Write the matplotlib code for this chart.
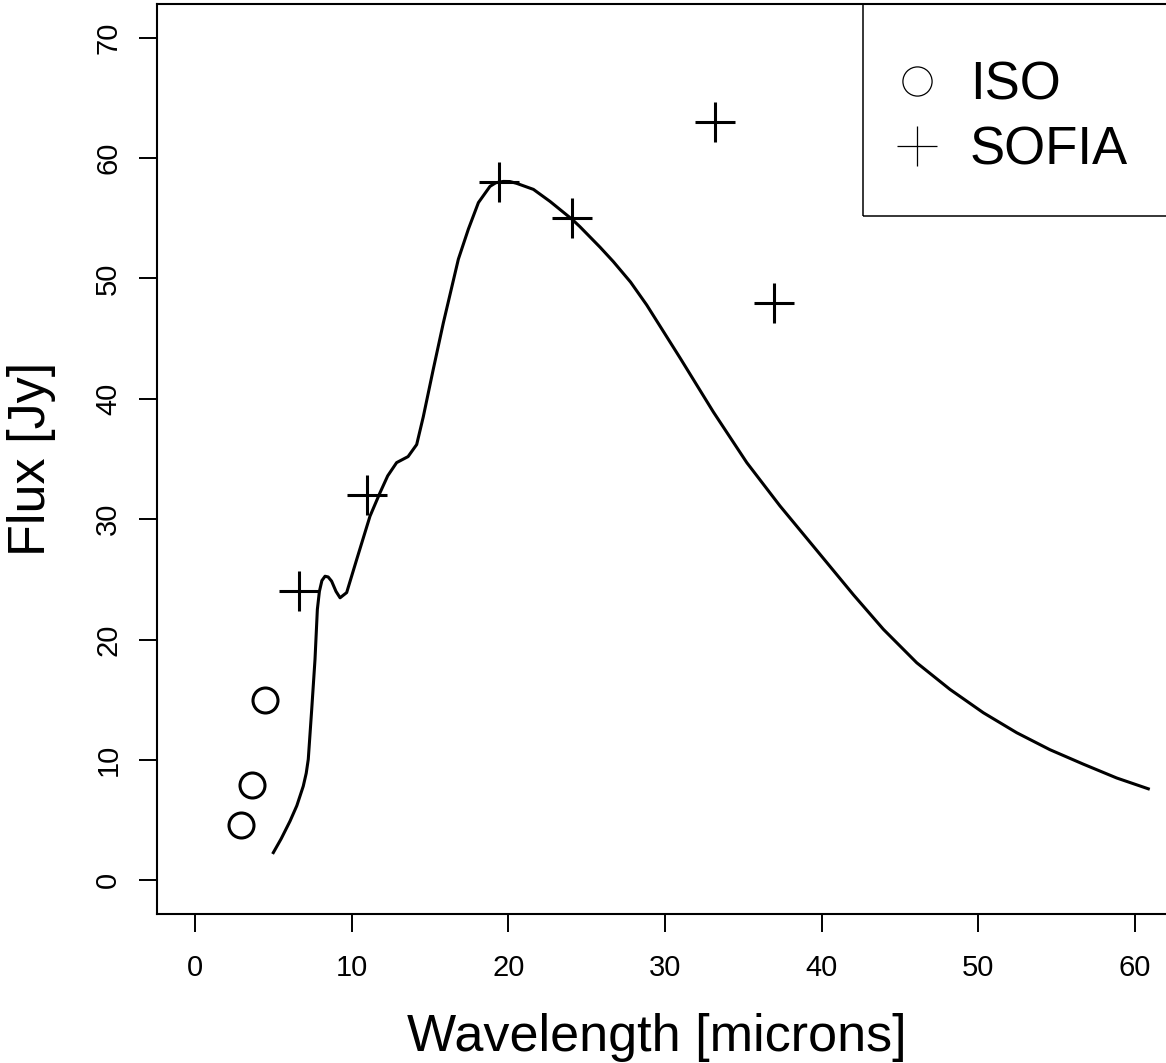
import matplotlib
matplotlib.use("Agg")
import matplotlib.pyplot as plt
from matplotlib.patches import Rectangle

plt.rcParams['font.family'] = ['Liberation Sans', 'DejaVu Sans']

# ---- data ----
iso_wl = [2.96, 3.66, 4.47]
iso_flux = [4.6, 7.9, 15.0]

sofia_wl = [6.66, 10.96, 19.42, 24.08, 33.19, 36.96]
sofia_flux = [24.0, 32.05, 58.0, 55.0, 63.0, 48.0]

model_wl = [5.0, 5.5, 6.06, 6.5, 6.91, 7.1, 7.23, 7.45, 7.66, 7.81, 7.94, 8.1,
            8.30, 8.5, 8.72, 9.0, 9.26, 9.68, 10.32, 11.17, 11.81, 12.3,
            12.87, 13.6, 14.15, 14.57, 15.2, 15.85, 16.81, 17.45, 18.09,
            18.83, 19.2, 19.68, 20.1, 20.53, 21.6, 22.66, 24.08, 24.57, 25.85,
            26.7, 27.8, 28.83, 30.96, 33.09, 35.22, 37.34, 39.47, 42.04, 43.94,
            46.07, 48.19, 50.32, 52.45, 54.57, 56.7, 58.83, 60.85]
model_flux = [2.3, 3.45, 4.9, 6.2, 7.82, 8.9, 10.05, 14.2, 18.35, 22.5, 24.0,
              24.9, 25.26, 25.2, 24.85, 24.0, 23.47, 23.9, 26.65, 30.25, 32.2,
              33.6, 34.7, 35.2, 36.2, 38.5, 42.4, 46.3, 51.6, 54.1, 56.3,
              57.65, 57.95, 58.06, 58.05, 57.9, 57.4, 56.4, 54.9, 54.3, 52.6,
              51.4, 49.7, 47.8, 43.4, 38.9, 34.7, 31.1, 27.75, 23.7, 20.85,
              18.07, 15.86, 13.92, 12.26, 10.85, 9.65, 8.5, 7.6]

x_ticks = [0, 10, 20, 30, 40, 50, 60]
y_ticks = [0, 10, 20, 30, 40, 50, 60, 70]
labels = ['ISO', 'SOFIA']

# ---- figure ----
W, H, DPI = 1166, 1063, 100
fig = plt.figure(figsize=(W / DPI, H / DPI), dpi=DPI)

left_px, right_px, top_px, bot_px = 157, 1200, 4, 914
ax = fig.add_axes([left_px / W, (H - bot_px) / H,
                   (right_px - left_px) / W, (bot_px - top_px) / H])

ax.plot(model_wl, model_flux, color='black', lw=2.2, solid_joinstyle='round')
iso_art, = ax.plot(iso_wl, iso_flux, linestyle='none', marker='o', ms=18,
                   mfc='none', mec='black', mew=2.2)
sofia_art, = ax.plot(sofia_wl, sofia_flux, linestyle='none', marker='+',
                     ms=29, mec='black', mew=2.2)

ppu_x = 940 / 60.0
ax.set_xlim((left_px - 195) / ppu_x, (right_px - 195) / ppu_x)
ax.set_ylim(-2.8, 72.8)

ax.set_xticks(x_ticks)
ax.set_yticks(y_ticks)
ax.tick_params(direction='out', length=13, width=1.4, labelsize=21,
               color='black')
ax.tick_params(axis='x', pad=16)
ax.tick_params(axis='y', pad=12)
for lbl in ax.get_yticklabels():
    lbl.set_rotation(90)
    lbl.set_va('center')
    lbl.set_ha('right')

for s in ax.spines.values():
    s.set_linewidth(1.5)

ax.set_xlabel('Wavelength [microns]', fontsize=37.5)
ax.xaxis.set_label_coords((657 - left_px) / (right_px - left_px),
                          (bot_px - 1038) / (bot_px - top_px))
ax.xaxis.label.set_va('center')
ax.set_ylabel('Flux [Jy]', fontsize=37.5)
ax.yaxis.set_label_coords((32 - left_px) / (right_px - left_px),
                          (bot_px - 459) / (bot_px - top_px))
ax.yaxis.label.set_va('center')
ax.yaxis.label.set_ha('center')

# legend frame
fig.add_artist(Rectangle((863 / W, (H - 216) / H), (1260 - 863) / W,
                         (216 - 4) / H, transform=fig.transFigure,
                         fill=False, edgecolor='black', lw=1.1))

fs = 38
fs_px = fs * DPI / 72.0
x0 = 917 - fs_px / 2
leg = fig.legend(handles=[iso_art, sofia_art], labels=labels,
                 loc='center left', bbox_to_anchor=(x0 / W, 1 - 118.0 / H),
                 bbox_transform=fig.transFigure, frameon=False, fontsize=fs,
                 handlelength=1.0, handletextpad=(970 - x0 - fs_px) / fs_px,
                 borderpad=0, borderaxespad=0, labelspacing=0.3, numpoints=1)
for h in leg.legend_handles:
    h.set_markeredgewidth(0.9)
leg.legend_handles[0].set_markersize(21)

fig.savefig('out.png', dpi=DPI)
